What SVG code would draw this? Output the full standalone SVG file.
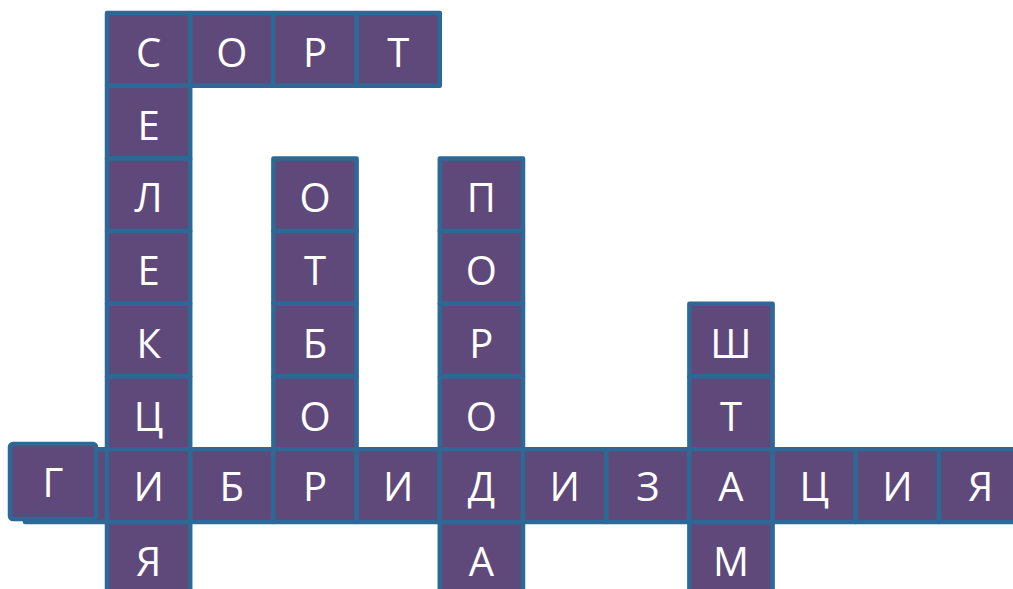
<svg xmlns="http://www.w3.org/2000/svg" width="1013" height="589" viewBox="0 0 1013 589">
<style>
.c{fill:#5f497a;stroke:#2e6896;stroke-width:4.5;stroke-linejoin:round}
.t{fill:#ffffff;font-family:"Open Sans","Noto Sans",sans-serif;font-size:40px;text-anchor:middle}
</style>
<rect width="1013" height="589" fill="#ffffff"/>
<g id="word-sort">
<g id="c-0-0"><rect class="c" x="107" y="13" width="83.2" height="72.7"/><text class="t" x="148.6" y="67">С</text></g>
<g id="c-1-0"><rect class="c" x="190.2" y="13" width="83.2" height="72.7"/><text class="t" x="231.8" y="67">О</text></g>
<g id="c-2-0"><rect class="c" x="273.4" y="13" width="83.2" height="72.7"/><text class="t" x="315" y="67">Р</text></g>
<g id="c-3-0"><rect class="c" x="356.6" y="13" width="83.2" height="72.7"/><text class="t" x="398.2" y="67">Т</text></g>
</g>
<g id="word-selekciya">
<g id="c-0-1"><rect class="c" x="107" y="85.7" width="83.2" height="72.7"/><text class="t" x="148.6" y="139.7">Е</text></g>
<g id="c-0-2"><rect class="c" x="107" y="158.4" width="83.2" height="72.7"/><text class="t" x="148.6" y="212.4">Л</text></g>
<g id="c-0-3"><rect class="c" x="107" y="231.1" width="83.2" height="72.7"/><text class="t" x="148.6" y="285.1">Е</text></g>
<g id="c-0-4"><rect class="c" x="107" y="303.8" width="83.2" height="72.7"/><text class="t" x="148.6" y="357.8">К</text></g>
<g id="c-0-5"><rect class="c" x="107" y="376.5" width="83.2" height="72.7"/><text class="t" x="148.6" y="430.5">Ц</text></g>
<g id="c-0-7"><rect class="c" x="107" y="521.9" width="83.2" height="72.7"/><text class="t" x="148.6" y="575.9">Я</text></g>
</g>
<g id="word-otbor">
<g id="c-2-2"><rect class="c" x="273.4" y="158.4" width="83.2" height="72.7"/><text class="t" x="315" y="212.4">О</text></g>
<g id="c-2-3"><rect class="c" x="273.4" y="231.1" width="83.2" height="72.7"/><text class="t" x="315" y="285.1">Т</text></g>
<g id="c-2-4"><rect class="c" x="273.4" y="303.8" width="83.2" height="72.7"/><text class="t" x="315" y="357.8">Б</text></g>
<g id="c-2-5"><rect class="c" x="273.4" y="376.5" width="83.2" height="72.7"/><text class="t" x="315" y="430.5">О</text></g>
</g>
<g id="word-poroda">
<g id="c-4-2"><rect class="c" x="439.8" y="158.4" width="83.2" height="72.7"/><text class="t" x="481.4" y="212.4">П</text></g>
<g id="c-4-3"><rect class="c" x="439.8" y="231.1" width="83.2" height="72.7"/><text class="t" x="481.4" y="285.1">О</text></g>
<g id="c-4-4"><rect class="c" x="439.8" y="303.8" width="83.2" height="72.7"/><text class="t" x="481.4" y="357.8">Р</text></g>
<g id="c-4-5"><rect class="c" x="439.8" y="376.5" width="83.2" height="72.7"/><text class="t" x="481.4" y="430.5">О</text></g>
<g id="c-4-7"><rect class="c" x="439.8" y="521.9" width="83.2" height="72.7"/><text class="t" x="481.4" y="575.9">А</text></g>
</g>
<g id="word-shtam">
<g id="c-7-4"><rect class="c" x="689.4" y="303.8" width="83.2" height="72.7"/><text class="t" x="731" y="357.8">Ш</text></g>
<g id="c-7-5"><rect class="c" x="689.4" y="376.5" width="83.2" height="72.7"/><text class="t" x="731" y="430.5">Т</text></g>
<g id="c-7-7"><rect class="c" x="689.4" y="521.9" width="83.2" height="72.7"/><text class="t" x="731" y="575.9">М</text></g>
</g>
<g id="word-gibridizaciya">
<rect class="c" x="25" y="449.2" width="82" height="72.7"/>
<g id="c-g"><rect class="c" x="10" y="444" width="86" height="75" rx="3"/><text class="t" x="53" y="497">Г</text></g>
<g id="c-0-6"><rect class="c" x="107" y="449.2" width="83.2" height="72.7"/><text class="t" x="148.6" y="501">И</text></g>
<g id="c-1-6"><rect class="c" x="190.2" y="449.2" width="83.2" height="72.7"/><text class="t" x="231.8" y="501">Б</text></g>
<g id="c-2-6"><rect class="c" x="273.4" y="449.2" width="83.2" height="72.7"/><text class="t" x="315" y="501">Р</text></g>
<g id="c-3-6"><rect class="c" x="356.6" y="449.2" width="83.2" height="72.7"/><text class="t" x="398.2" y="501">И</text></g>
<g id="c-4-6"><rect class="c" x="439.8" y="449.2" width="83.2" height="72.7"/><text class="t" x="481.4" y="501">Д</text></g>
<g id="c-5-6"><rect class="c" x="523" y="449.2" width="83.2" height="72.7"/><text class="t" x="564.6" y="501">И</text></g>
<g id="c-6-6"><rect class="c" x="606.2" y="449.2" width="83.2" height="72.7"/><text class="t" x="647.8" y="501">З</text></g>
<g id="c-7-6"><rect class="c" x="689.4" y="449.2" width="83.2" height="72.7"/><text class="t" x="731" y="501">А</text></g>
<g id="c-8-6"><rect class="c" x="772.6" y="449.2" width="83.2" height="72.7"/><text class="t" x="814.2" y="501">Ц</text></g>
<g id="c-9-6"><rect class="c" x="855.8" y="449.2" width="83.2" height="72.7"/><text class="t" x="897.4" y="501">И</text></g>
<g id="c-10-6"><rect class="c" x="939" y="449.2" width="83.2" height="72.7"/><text class="t" x="980.6" y="501">Я</text></g>
</g>
<g id="connectors"/>
</svg>
